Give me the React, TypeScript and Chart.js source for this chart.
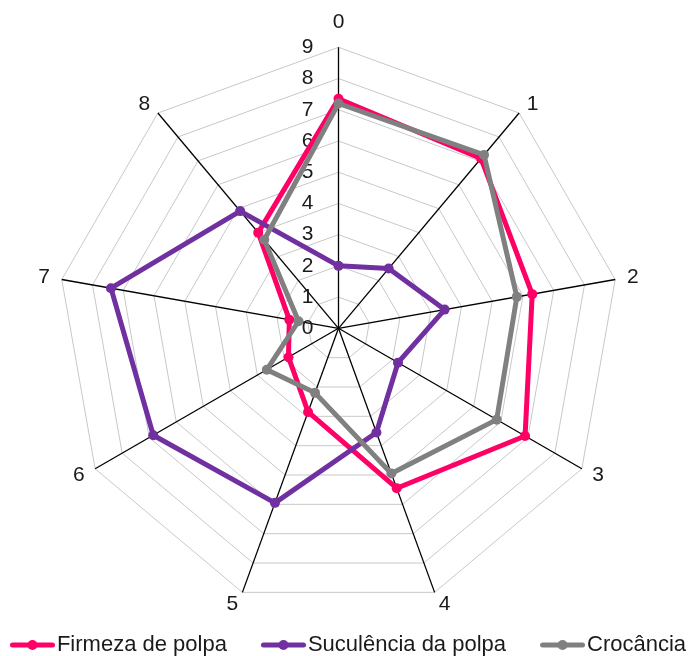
import { useEffect, useRef } from "react";
import { Chart, registerables } from "chart.js";

Chart.register(...registerables);

// ---- data ----
const AXIS_LABELS = ["0", "1", "2", "3", "4", "5", "6", "7", "8"];
const TICK_VALUES = [0, 1, 2, 3, 4, 5, 6, 7, 8, 9];
const SERIES_NAMES = ["Firmeza de polpa", "Suculência da polpa", "Crocância"];
const FIRMEZA = [7.35, 7.1, 6.3, 6.9, 5.45, 2.85, 1.85, 1.6, 4.0];
const SUCULENCIA = [2.0, 2.5, 3.45, 2.2, 3.55, 5.95, 6.85, 7.4, 4.9];
const CROCANCIA = [7.2, 7.25, 5.8, 5.85, 4.95, 2.2, 2.65, 1.3, 3.7];

// ---- style ----
const COLORS = ["#FF0066", "#7030A0", "#808080"];
const TEXT = "#1a1a1a";
const FAMILY = "'Liberation Sans', Arial, sans-serif";
const CENTER_X = 338.5;
const CENTER_Y = 328.3;
const RADIUS = 281;

function makeMarker(color: string): HTMLCanvasElement {
  const c = document.createElement("canvas");
  c.width = 58;
  c.height = 12;
  const g = c.getContext("2d")!;
  g.strokeStyle = color;
  g.lineWidth = 5;
  g.lineCap = "round";
  g.beginPath();
  g.moveTo(15.5, 6);
  g.lineTo(55.5, 6);
  g.stroke();
  g.fillStyle = color;
  g.beginPath();
  g.arc(35.5, 6, 5, 0, Math.PI * 2);
  g.fill();
  return c;
}

const tickLabelPlugin = {
  id: "excelTickLabels",
  beforeDatasetsDraw(chart: any) {
    const scale = chart.scales.r;
    const ctx = chart.ctx;
    ctx.save();
    ctx.font = `21px ${FAMILY}`;
    ctx.fillStyle = TEXT;
    ctx.textAlign = "right";
    ctx.textBaseline = "middle";
    TICK_VALUES.forEach((v) => {
      const d = scale.getDistanceFromCenterForValue(v);
      ctx.fillText(String(v), scale.xCenter - 25, scale.yCenter - d);
    });
    ctx.restore();
  },
};

export default function App() {
  const ref = useRef<HTMLCanvasElement>(null);

  useEffect(() => {
    const canvas = ref.current;
    if (!canvas) return;
    const markers = COLORS.map((c) => makeMarker(c));
    const seriesData = [FIRMEZA, SUCULENCIA, CROCANCIA];

    const chart = new Chart(canvas, {
      type: "radar",
      data: {
        labels: AXIS_LABELS,
        datasets: seriesData.map((d, i) => ({
          label: SERIES_NAMES[i],
          data: d,
          borderColor: COLORS[i],
          backgroundColor: COLORS[i],
          fill: false,
          borderWidth: 5,
          borderJoinStyle: "round" as const,
          pointRadius: 5,
          pointBorderWidth: 0,
          pointBackgroundColor: COLORS[i],
          pointBorderColor: COLORS[i],
          order: 3 - i,
        })),
      },
      options: {
        responsive: false,
        animation: false,
        layout: { padding: { left: -25, right: -24, top: 0, bottom: -10 } },
        plugins: {
          tooltip: { enabled: false },
          legend: {
            position: "bottom",
            labels: {
              usePointStyle: true,
              pointStyleWidth: 40,
              padding: 30,
              color: TEXT,
              font: { size: 22, family: FAMILY },
              generateLabels: (ch: any) =>
                ch.data.datasets.map((ds: any, i: number) => ({
                  text: ds.label,
                  datasetIndex: i,
                  pointStyle: markers[i],
                  fillStyle: COLORS[i],
                  strokeStyle: COLORS[i],
                  lineWidth: 0,
                  hidden: false,
                  fontColor: TEXT,
                })),
            },
          },
        },
        scales: {
          r: {
            min: 0,
            max: 9,
            ticks: { display: false, stepSize: 1 },
            grid: { color: "#c8c8c8", lineWidth: 1, circular: false },
            angleLines: { color: "#000000", lineWidth: 1.3 },
            pointLabels: {
              color: TEXT,
              font: { size: 21, family: FAMILY, lineHeight: 0.01 },
              padding: (ctx: any) => (ctx.index === 0 ? 25 : 12),
            },
            afterSetDimensions: (scale: any) => {
              scale.xCenter = CENTER_X;
              scale.yCenter = CENTER_Y;
              scale.drawingArea = RADIUS;
            },
          },
        },
      },
      plugins: [tickLabelPlugin],
    } as any);

    return () => chart.destroy();
  }, []);

  return (
    <div
      style={{
        position: "fixed",
        left: 0,
        top: 0,
        width: 693,
        height: 656,
        background: "#ffffff",
      }}
    >
      <canvas
        ref={ref}
        width={693}
        height={656}
        style={{ display: "block", width: 693, height: 656 }}
      />
    </div>
  );
}
